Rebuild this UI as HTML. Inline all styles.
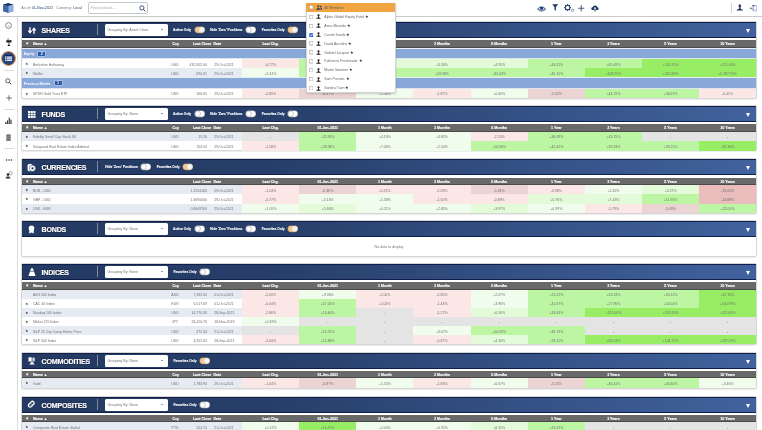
<!DOCTYPE html><html><head><meta charset="utf-8"><style>
*{box-sizing:border-box}
body{margin:0;width:762px;height:430px;overflow:hidden;background:#fff;position:relative;will-change:transform;font-family:"Liberation Sans",sans-serif;color:#555}
.a{position:absolute}
.top{left:0;top:0;width:762px;height:17px;background:#fff;border-bottom:1px solid #c9c9c9}
.side{left:0;top:17px;width:18px;height:413px;border-right:1px solid #dcdcdc;background:#fff}
.panel{position:absolute;left:21px;width:736px;background:#fff;border:1px solid #d6d6d6;border-radius:2px;box-shadow:0 1px 1px rgba(0,0,0,.08)}
.hdr{position:absolute;left:0;top:0;width:734px;height:15.5px;background:linear-gradient(to right,#243a62 0%,#263e69 33%,#41629e 100%);border-top:1px solid #0f1f4a;border-bottom:1.2px solid #0f1f4a}
.ttl{position:absolute;left:19.5px;top:3.9px;font-size:7.1px;font-weight:bold;color:#fff;letter-spacing:-0.2px;-webkit-text-stroke:0.2px #fff;text-shadow:0 0 1px #000a20,0 0 1px #000a20}
.div{position:absolute;left:74.8px;top:0.8px;width:1px;height:11.5px;background:#7f8aa0}
.grp{position:absolute;left:83px;top:1.1px;width:62.5px;height:11.5px;background:#fff;border-radius:1.5px}
.grp span{position:absolute;left:2.5px;top:3.6px;font-size:3.6px;color:#777}
.grp i{position:absolute;left:56px;top:4.7px;width:0;height:0;border-left:1.5px solid transparent;border-right:1.5px solid transparent;border-top:1.9px solid #333}
.lbl{position:absolute;top:5.2px;font-size:3.3px;font-weight:bold;color:#fff;-webkit-text-stroke:0.1px #fff}
.tg{position:absolute;top:3.6px;width:10.3px;height:6.6px;border-radius:3.3px;background:#fff;border:0.5px solid #c4c4c4;box-shadow:0 0 0.8px #000a28}
.tg.on{background:#f5c78f;border-color:#f0bb7c}
.tg b{position:absolute;top:0.4px;left:0.4px;width:5.1px;height:5.1px;border-radius:50%;background:#fff;border:0.5px solid #b0b0b0}
.tg.on b{left:4.3px;background:#f0f5fb;border-color:#f3dcc0}
.tri{position:absolute;left:724px;top:6.3px;width:0;height:0;border-left:2.4px solid transparent;border-right:2.4px solid transparent;border-top:4px solid #fff}
.ch{position:absolute;left:0;width:734px;height:7.5px;background:#696969;border-bottom:0.6px solid #4a4a4a;color:#fff;font-weight:bold;font-size:3.6px;-webkit-text-stroke:0.12px #fff}
.ch span{position:absolute;top:2.3px;white-space:nowrap}
.row{position:absolute;left:0;width:734px;height:9.2px;font-size:3.5px;color:#707070}
.row span{position:absolute;top:3.7px;white-space:nowrap}
.row.l{background:#e6ebf3}
.cell{position:absolute;top:0;height:100%;text-align:center}
.cell span{position:relative;top:3.7px}
.gr{position:absolute;left:0;width:734px;background:#88a8da;border-top:1.3px solid #e8edf3;border-bottom:1.3px solid #dfe5ee;color:#fff;font-weight:bold;font-size:3.5px}
.gr span{position:absolute;left:1.8px;top:3.3px}
.gr em{position:absolute;top:2px;height:6px;background:#2d5aa6;border:0.6px solid #a9bfe3;border-radius:1px;color:#fff;font-style:normal;font-weight:bold;text-align:center;font-size:3.6px;line-height:4.8px}
.star{position:absolute;left:4px;font-size:3px;color:#222}
</style></head><body>
<div class="a top"></div>
<svg class="a" style="left:3px;top:3px" width="10.5" height="10" viewBox="0 0 10.5 10">
 <path d="M5.2 0.2L10.2 1.6V8.2L5.2 9.8L0.3 8.2V1.6Z" fill="#2a4f8f"/>
 <path d="M0.3 1.6L5.2 0.2L10.2 1.6L5.2 3Z" fill="#1a2f5c"/>
 <path d="M5.2 3L10.2 1.6V8.2L5.2 9.8Z" fill="#8fb0dd"/>
 <path d="M0.3 1.6L5.2 3V9.8L0.3 8.2Z" fill="#3d68ad"/>
</svg>
<div class="a" style="left:21.3px;top:6px;font-size:3.7px;color:#777;white-space:nowrap">As of: <span style="color:#23427e">01-Nov-2021</span>&nbsp;&nbsp; Currency: <span style="color:#23427e">Local</span></div>
<div class="a" style="left:88px;top:2.1px;width:59.5px;height:11.7px;border:0.8px solid #c3c9d3;border-radius:2px;background:#fff"></div>
<div class="a" style="left:90.5px;top:5.6px;font-size:3.6px;color:#aaa;white-space:nowrap">Find products...</div>
<svg class="a" style="left:138.5px;top:4.8px" width="7" height="7" viewBox="0 0 7 7"><circle cx="2.9" cy="2.9" r="2.1" stroke="#1f3463" stroke-width="0.8" fill="none"/><path d="M4.4 4.4L6.3 6.3" stroke="#1f3463" stroke-width="1"/></svg>
<svg class="a" style="left:537.3px;top:5.7px" width="9.2" height="6" viewBox="0 0 9.2 6"><path d="M0.5 3Q4.6 -1.2 8.7 3Q4.6 7.2 0.5 3Z" fill="#d3dcec" stroke="#24498c" stroke-width="0.8"/><path d="M2.6 1.3Q4.6 0.3 6.6 1.3L5.6 3.6Q4.6 4.4 3.6 3.6Z" fill="#1f4186"/><path d="M1.2 3.3Q4.6 5.2 8 3.3" stroke="#3a5d9c" stroke-width="0.5" fill="none"/></svg>
<svg class="a" style="left:551.8px;top:4.2px" width="6.4" height="7" viewBox="0 0 6.4 7"><path d="M0.2 0.2H6.2L3.9 3.1V6.8L2.5 5.9V3.1Z" fill="#1f3463"/></svg>
<svg class="a" style="left:563.5px;top:4.4px" width="11" height="8" viewBox="0 0 11 8"><g transform="translate(3.6 3.6)" fill="#1f3463"><circle r="2.3" fill="none" stroke="#1f3463" stroke-width="1.0"/><rect x="-0.55" y="-3.5" width="1.1" height="1.4" transform="rotate(0)"/><rect x="-0.55" y="-3.5" width="1.1" height="1.4" transform="rotate(45)"/><rect x="-0.55" y="-3.5" width="1.1" height="1.4" transform="rotate(90)"/><rect x="-0.55" y="-3.5" width="1.1" height="1.4" transform="rotate(135)"/><rect x="-0.55" y="-3.5" width="1.1" height="1.4" transform="rotate(180)"/><rect x="-0.55" y="-3.5" width="1.1" height="1.4" transform="rotate(225)"/><rect x="-0.55" y="-3.5" width="1.1" height="1.4" transform="rotate(270)"/><rect x="-0.55" y="-3.5" width="1.1" height="1.4" transform="rotate(315)"/></g><g transform="translate(8.6 6.3)"><circle r="1.1" fill="none" stroke="#5a6d95" stroke-width="0.7"/></g></svg>
<svg class="a" style="left:578px;top:5px" width="6.5" height="6.5" viewBox="0 0 6.5 6.5"><path d="M3.25 0.2V6.3M0.2 3.25H6.3" stroke="#4b5d87" stroke-width="1.1"/></svg>
<svg class="a" style="left:590.5px;top:5px" width="8" height="6.5" viewBox="0 0 8 6.5"><path d="M1.8 5Q0.2 5 0.3 3.5Q0.4 2.2 1.7 2.3Q2.2 0.3 4.2 0.4Q6.2 0.5 6.3 2.3Q7.8 2.4 7.7 3.8Q7.6 5 6.3 5Z" fill="#1f3463"/><path d="M4 2L2.6 3.6H3.5V6.2H4.5V3.6H5.4Z" fill="#fff"/><path d="M3.5 4.6V6.4H4.5V4.6" fill="#1f3463"/></svg>
<div class="a" style="left:731.3px;top:3.3px;width:0.8px;height:9.5px;background:#d0d0d0"></div>
<svg class="a" style="left:735.8px;top:4.3px" width="7.6" height="7" viewBox="0 0 7.6 7"><ellipse cx="3.8" cy="1.9" rx="1.25" ry="1.7" fill="#1f3463"/><path d="M3.1 3.3H4.5L4.7 4.9Q7.1 5.2 7.2 6.6H0.4Q0.5 5.2 2.9 4.9Z" fill="#1f3463"/></svg>
<svg class="a" style="left:748.5px;top:4.6px" width="8.5" height="7" viewBox="0 0 8.5 7"><path d="M3.3 0.5H7.6V6.1H5.6" stroke="#8a9cbb" stroke-width="0.65" fill="none"/><path d="M3.2 0.4L5.9 0.9V6.9L3.2 6.2Z" fill="#dfe5ef"/><path d="M3.2 0.4L5.9 0.9L4.4 1.6Z" fill="#1f3463"/><path d="M3.2 0.4H5.8L4.5 1.5Z" fill="#1f3463"/><circle cx="4.3" cy="4.9" r="0.6" fill="#2a4478"/><path d="M0.4 3.3L2 2.5V4.1Z" fill="#4a5f8a"/><path d="M1.5 3.3H3.6" stroke="#2a4478" stroke-width="0.8"/></svg>

<div class="a side"></div>
<svg class="a" style="left:4.9px;top:22px" width="7" height="7" viewBox="0 0 7 7"><circle cx="3.5" cy="3.5" r="2.9" stroke="#555" stroke-width="0.7" fill="none"/><path d="M3.1 4.9L4.1 3.4" stroke="#555" stroke-width="0.55"/></svg>
<svg class="a" style="left:5.8px;top:36.8px" width="6" height="9.6" viewBox="0 0 6 9.6"><path d="M0.9 3.3L2.1 0.3L3.3 3.3Z" fill="#aaa"/><rect x="0.3" y="3.2" width="5.2" height="2.3" fill="#222"/><path d="M2.9 5.4V8" stroke="#222" stroke-width="0.8"/><ellipse cx="2.9" cy="8.5" rx="1.3" ry="0.85" fill="#222"/></svg>
<div class="a" style="left:0.9px;top:50.5px;width:15.6px;height:15.6px;border-radius:50%;background:#26467c;border:1.3px solid #f0a050"></div>
<svg class="a" style="left:4.9px;top:54.8px" width="7.2" height="6.6" viewBox="0 0 7.2 6.6"><rect x="0" y="0" width="7.2" height="0.9" fill="#0b1a48"/><g fill="#e8ecf4"><rect x="0" y="1.5" width="1.3" height="1.2"/><rect x="1.8" y="1.5" width="5.4" height="1.2"/><rect x="0" y="3.2" width="1.3" height="1.2"/><rect x="1.8" y="3.2" width="5.4" height="1.2"/><rect x="0" y="4.9" width="1.3" height="1.2"/><rect x="1.8" y="4.9" width="5.4" height="1.2"/></g></svg>
<div class="a" style="left:3.5px;top:69.6px;width:10px;height:0.8px;background:#d9d9d9"></div>
<svg class="a" style="left:5.2px;top:77.8px" width="7" height="7" viewBox="0 0 7 7"><circle cx="2.8" cy="2.8" r="2.1" stroke="#333" stroke-width="0.75" fill="none"/><path d="M4.3 4.3L6.3 6.3" stroke="#333" stroke-width="0.9"/></svg>
<svg class="a" style="left:5.5px;top:94.5px" width="6" height="6" viewBox="0 0 6 6"><path d="M3 0.2V5.8M0.2 3H5.8" stroke="#222" stroke-width="0.6"/></svg>
<div class="a" style="left:3.5px;top:108.5px;width:10px;height:0.8px;background:#d9d9d9"></div>
<svg class="a" style="left:5px;top:117px" width="7" height="7" viewBox="0 0 7 7"><g fill="#333"><rect x="0.3" y="5" width="1.1" height="1.8"/><rect x="2" y="3.4" width="1.1" height="3.4"/><rect x="3.7" y="0.6" width="1.1" height="6.2"/><rect x="5.4" y="2.6" width="1.1" height="4.2"/><rect x="0" y="6.5" width="7" height="0.4"/></g></svg>
<svg class="a" style="left:6px;top:133.5px" width="5" height="7.5" viewBox="0 0 5 7.5"><rect x="0.3" y="0.3" width="4.4" height="6.9" rx="0.8" fill="#777"/><path d="M0.3 2.3H4.7M0.3 4.6H4.7" stroke="#aaa" stroke-width="0.3"/></svg>
<div class="a" style="left:3.5px;top:148px;width:10px;height:0.8px;background:#d9d9d9"></div>
<svg class="a" style="left:4.8px;top:159px" width="8" height="2" viewBox="0 0 8 2"><g fill="#222"><circle cx="1.6" cy="1" r="0.75"/><circle cx="4" cy="1" r="0.75"/><circle cx="6.4" cy="1" r="0.75"/></g></svg>
<svg class="a" style="left:5px;top:171px" width="8" height="8" viewBox="0 0 8 8"><circle cx="5.6" cy="2.2" r="1.6" stroke="#777" stroke-width="0.6" fill="#fff"/><circle cx="3" cy="3.6" r="1.4" fill="#333"/><path d="M0.5 7.6Q0.6 5.3 3 5.2Q5.4 5.3 5.5 7.6Z" fill="#333"/></svg>
<div class="panel" style="top:21px;height:77.5px"><div class="hdr"><svg class="a" style="left:5.6px;top:3.7px" width="8" height="7" viewBox="0 0 8 7"><path d="M2 0.3v4.6M0.4 3.6L2 5.6L3.6 3.6M6 6.7V2.1M4.4 3.4L6 1.4L7.6 3.4" stroke="#fff" stroke-width="1.4" fill="none"/></svg><div class="ttl">SHARES</div><div class="div"></div><div class="grp"><span>Grouping By: Asset Class</span><i></i></div><div class="lbl" style="left:151px">Active Only</div><svg class="tgs" style="position:absolute;left:171.70000000000002px;top:2.9px" width="11.5" height="7.7" viewBox="0 0 11.5 7.7"><rect x="0.5" y="0.5" width="10.5" height="6.7" rx="3.35" fill="#f5c78f" stroke="#0c1a3c" stroke-opacity=".5" stroke-width="0.6"/><circle cx="7.75" cy="3.85" r="2.75" fill="#eef4fb" stroke="#f0d2ae" stroke-width="0.4"/></svg><div class="lbl" style="left:187.9px">Hide 'Zero' Positions</div><svg class="tgs" style="position:absolute;left:223.3px;top:2.9px" width="11.5" height="7.7" viewBox="0 0 11.5 7.7"><rect x="0.5" y="0.5" width="10.5" height="6.7" rx="3.35" fill="#fff" stroke="#0c1a3c" stroke-opacity=".5" stroke-width="0.6"/><circle cx="3.75" cy="3.85" r="2.7" fill="#fff" stroke="#9a9a9a" stroke-width="0.55"/></svg><div class="lbl" style="left:239.8px">Favorites Only</div><svg class="tgs" style="position:absolute;left:265.2px;top:2.9px" width="11.5" height="7.7" viewBox="0 0 11.5 7.7"><rect x="0.5" y="0.5" width="10.5" height="6.7" rx="3.35" fill="#f5c78f" stroke="#0c1a3c" stroke-opacity=".5" stroke-width="0.6"/><circle cx="7.75" cy="3.85" r="2.75" fill="#eef4fb" stroke="#f0d2ae" stroke-width="0.4"/></svg><div class="tri"></div></div><div class="ch" style="top:18px"><svg style="position:absolute;left:2.8px;top:1.4px;overflow:visible" width="4.4" height="4.4" viewBox="-1.2 -1.2 12.4 12.4"><path d="M5 0.3L6.2 3.6L9.8 3.7L7 5.9L8 9.4L5 7.4L2 9.4L3 5.9L0.2 3.7L3.8 3.6Z" fill="#fff"/></svg><span style="left:11px">Name &#9650;</span><span style="left:150.5px">Ccy</span><span style="left:171px">Last Close</span><span style="left:191.5px">Date</span><div class="cell" style="left:220px;width:57.14999999999998px"><span style="top:2.3px">Last Chg.</span></div><div class="cell" style="left:277.15px;width:57.150000000000034px"><span style="top:2.3px">01-Jan-2021</span></div><div class="cell" style="left:334.3px;width:57.14999999999998px"><span style="top:2.3px">1 Month</span></div><div class="cell" style="left:391.45px;width:57.150000000000034px"><span style="top:2.3px">3 Months</span></div><div class="cell" style="left:448.6px;width:57.14999999999998px"><span style="top:2.3px">6 Months</span></div><div class="cell" style="left:505.75px;width:57.14999999999998px"><span style="top:2.3px">1 Year</span></div><div class="cell" style="left:562.9px;width:57.14999999999998px"><span style="top:2.3px">3 Years</span></div><div class="cell" style="left:620.05px;width:57.15000000000009px"><span style="top:2.3px">5 Years</span></div><div class="cell" style="left:677.2px;width:56.799999999999955px"><span style="top:2.3px">10 Years</span></div></div><div class="gr" style="top:25.5px;height:11.5px"><span>Equity</span><em style="left:15.2px;width:9px">2</em></div><div class="row" style="top:37px;height:9.2px"><svg style="position:absolute;left:3.1px;top:2.9999999999999996px;overflow:visible" width="3.6" height="3.6" viewBox="-1.9 -1.9 13.8 13.8"><path d="M5 0.3L6.2 3.6L9.8 3.7L7 5.9L8 9.4L5 7.4L2 9.4L3 5.9L0.2 3.7L3.8 3.6Z" fill="#222"/></svg><span style="left:11px">Berkshire Hathaway</span><span style="left:143px;width:20px;text-align:center">USD</span><span style="right:549px">432,902.00</span><span style="left:192.2px">29-Oct-2021</span><div class="cell" style="left:220px;width:57.14999999999998px;background:#fce7e7"><span>-0.77%</span></div><div class="cell" style="left:277.15px;width:57.150000000000034px;background:#bcf6a2"><span>+19.50%</span></div><div class="cell" style="left:334.3px;width:57.14999999999998px;background:#e3fbd9"><span>+4.80%</span></div><div class="cell" style="left:391.45px;width:57.150000000000034px;background:#e3fbd9"><span>+3.34%</span></div><div class="cell" style="left:448.6px;width:57.14999999999998px;background:#e3fbd9"><span>+4.95%</span></div><div class="cell" style="left:505.75px;width:57.14999999999998px;background:#bcf6a2"><span>+43.11%</span></div><div class="cell" style="left:562.9px;width:57.14999999999998px;background:#bcf6a2"><span>+45.69%</span></div><div class="cell" style="left:620.05px;width:57.15000000000009px;background:#97ee64"><span>+100.70%</span></div><div class="cell" style="left:677.2px;width:56.799999999999955px;background:#97ee64"><span>+270.16%</span></div></div><div class="row l" style="top:46.2px;height:9.2px"><svg style="position:absolute;left:3.1px;top:2.9999999999999996px;overflow:visible" width="3.6" height="3.6" viewBox="-1.9 -1.9 13.8 13.8"><path d="M5 0.3L6.2 3.6L9.8 3.7L7 5.9L8 9.4L5 7.4L2 9.4L3 5.9L0.2 3.7L3.8 3.6Z" fill="#222"/></svg><span style="left:11px">Netflix</span><span style="left:143px;width:20px;text-align:center">USD</span><span style="right:549px">690.31</span><span style="left:192.2px">29-Oct-2021</span><div class="cell" style="left:220px;width:57.14999999999998px;background:#f1fdec"><span>+2.41%</span></div><div class="cell" style="left:277.15px;width:57.150000000000034px;background:#bcf6a2"><span>+27.30%</span></div><div class="cell" style="left:334.3px;width:57.14999999999998px;background:#bcf6a2"><span>+12.40%</span></div><div class="cell" style="left:391.45px;width:57.150000000000034px;background:#bcf6a2"><span>+33.38%</span></div><div class="cell" style="left:448.6px;width:57.14999999999998px;background:#bcf6a2"><span>+34.44%</span></div><div class="cell" style="left:505.75px;width:57.14999999999998px;background:#bcf6a2"><span>+45.10%</span></div><div class="cell" style="left:562.9px;width:57.14999999999998px;background:#97ee64"><span>+128.75%</span></div><div class="cell" style="left:620.05px;width:57.15000000000009px;background:#97ee64"><span>+452.82%</span></div><div class="cell" style="left:677.2px;width:56.799999999999955px;background:#97ee64"><span>+5,787.15%</span></div></div><div class="gr" style="top:55.4px;height:11.2px"><span>Precious Metals</span><em style="left:31.5px;width:9px">1</em></div><div class="row" style="top:66.6px;height:9.2px"><svg style="position:absolute;left:3.1px;top:2.9999999999999996px;overflow:visible" width="3.6" height="3.6" viewBox="-1.9 -1.9 13.8 13.8"><path d="M5 0.3L6.2 3.6L9.8 3.7L7 5.9L8 9.4L5 7.4L2 9.4L3 5.9L0.2 3.7L3.8 3.6Z" fill="#222"/></svg><span style="left:11px">SPDR Gold Trust ETF</span><span style="left:143px;width:20px;text-align:center">USD</span><span style="right:549px">166.65</span><span style="left:192.2px">29-Oct-2021</span><div class="cell" style="left:220px;width:57.14999999999998px;background:#fce7e7"><span>-0.85%</span></div><div class="cell" style="left:277.15px;width:57.150000000000034px;background:#ecd4d4"><span>-6.57%</span></div><div class="cell" style="left:334.3px;width:57.14999999999998px;background:#f1fdec"><span>+1.48%</span></div><div class="cell" style="left:391.45px;width:57.150000000000034px;background:#fce7e7"><span>-1.87%</span></div><div class="cell" style="left:448.6px;width:57.14999999999998px;background:#f1fdec"><span>+0.60%</span></div><div class="cell" style="left:505.75px;width:57.14999999999998px;background:#ecd4d4"><span>-5.42%</span></div><div class="cell" style="left:562.9px;width:57.14999999999998px;background:#bcf6a2"><span>+44.72%</span></div><div class="cell" style="left:620.05px;width:57.15000000000009px;background:#bcf6a2"><span>+36.67%</span></div><div class="cell" style="left:677.2px;width:56.799999999999955px;background:#fce7e7"><span>-0.41%</span></div></div></div><div class="panel" style="top:105px;height:46px"><div class="hdr"><svg class="a" style="left:6.3px;top:4.3px" width="7.5" height="7" viewBox="0 0 7.5 7"><g fill="#fff"><rect x="0" y="0" width="2.2" height="2"/><rect x="2.65" y="0" width="2.2" height="2"/><rect x="5.3" y="0" width="2.2" height="2"/><rect x="0" y="2.5" width="2.2" height="2"/><rect x="2.65" y="2.5" width="2.2" height="2"/><rect x="5.3" y="2.5" width="2.2" height="2"/><rect x="0" y="5" width="2.2" height="2"/><rect x="2.65" y="5" width="2.2" height="2"/><rect x="5.3" y="5" width="2.2" height="2"/></g></svg><div class="ttl">FUNDS</div><div class="div"></div><div class="grp"><span>Grouping By: None</span><i></i></div><div class="lbl" style="left:151px">Active Only</div><svg class="tgs" style="position:absolute;left:171.70000000000002px;top:2.9px" width="11.5" height="7.7" viewBox="0 0 11.5 7.7"><rect x="0.5" y="0.5" width="10.5" height="6.7" rx="3.35" fill="#fff" stroke="#0c1a3c" stroke-opacity=".5" stroke-width="0.6"/><circle cx="3.75" cy="3.85" r="2.7" fill="#fff" stroke="#9a9a9a" stroke-width="0.55"/></svg><div class="lbl" style="left:187.9px">Hide 'Zero' Positions</div><svg class="tgs" style="position:absolute;left:223.3px;top:2.9px" width="11.5" height="7.7" viewBox="0 0 11.5 7.7"><rect x="0.5" y="0.5" width="10.5" height="6.7" rx="3.35" fill="#fff" stroke="#0c1a3c" stroke-opacity=".5" stroke-width="0.6"/><circle cx="3.75" cy="3.85" r="2.7" fill="#fff" stroke="#9a9a9a" stroke-width="0.55"/></svg><div class="lbl" style="left:239.8px">Favorites Only</div><svg class="tgs" style="position:absolute;left:265.2px;top:2.9px" width="11.5" height="7.7" viewBox="0 0 11.5 7.7"><rect x="0.5" y="0.5" width="10.5" height="6.7" rx="3.35" fill="#fff" stroke="#0c1a3c" stroke-opacity=".5" stroke-width="0.6"/><circle cx="3.75" cy="3.85" r="2.7" fill="#fff" stroke="#9a9a9a" stroke-width="0.55"/></svg><div class="tri"></div></div><div class="ch" style="top:18px"><svg style="position:absolute;left:2.8px;top:1.4px;overflow:visible" width="4.4" height="4.4" viewBox="-1.2 -1.2 12.4 12.4"><path d="M5 0.3L6.2 3.6L9.8 3.7L7 5.9L8 9.4L5 7.4L2 9.4L3 5.9L0.2 3.7L3.8 3.6Z" fill="#fff"/></svg><span style="left:11px">Name &#9650;</span><span style="left:150.5px">Ccy</span><span style="left:171px">Last Close</span><span style="left:191.5px">Date</span><div class="cell" style="left:220px;width:57.14999999999998px"><span style="top:2.3px">Last Chg.</span></div><div class="cell" style="left:277.15px;width:57.150000000000034px"><span style="top:2.3px">01-Jan-2021</span></div><div class="cell" style="left:334.3px;width:57.14999999999998px"><span style="top:2.3px">1 Month</span></div><div class="cell" style="left:391.45px;width:57.150000000000034px"><span style="top:2.3px">3 Months</span></div><div class="cell" style="left:448.6px;width:57.14999999999998px"><span style="top:2.3px">6 Months</span></div><div class="cell" style="left:505.75px;width:57.14999999999998px"><span style="top:2.3px">1 Year</span></div><div class="cell" style="left:562.9px;width:57.14999999999998px"><span style="top:2.3px">3 Years</span></div><div class="cell" style="left:620.05px;width:57.15000000000009px"><span style="top:2.3px">5 Years</span></div><div class="cell" style="left:677.2px;width:56.799999999999955px"><span style="top:2.3px">10 Years</span></div></div><div class="row l" style="top:25.5px;height:9.5px"><svg style="position:absolute;left:3.1px;top:3.15px;overflow:visible" width="3.6" height="3.6" viewBox="-1.9 -1.9 13.8 13.8"><path d="M5 0.3L6.2 3.6L9.8 3.7L7 5.9L8 9.4L5 7.4L2 9.4L3 5.9L0.2 3.7L3.8 3.6Z" fill="#222"/></svg><span style="left:11px">Fidelity Small Cap Stock K6</span><span style="left:143px;width:20px;text-align:center">USD</span><span style="right:549px">15.26</span><span style="left:192.2px">29-Oct-2021</span><div class="cell" style="left:220px;width:57.14999999999998px;background:#e4e4e4"><span>-</span></div><div class="cell" style="left:277.15px;width:57.150000000000034px;background:#bcf6a2"><span>+11.96%</span></div><div class="cell" style="left:334.3px;width:57.14999999999998px;background:#f1fdec"><span>+4.16%</span></div><div class="cell" style="left:391.45px;width:57.150000000000034px;background:#f1fdec"><span>+3.81%</span></div><div class="cell" style="left:448.6px;width:57.14999999999998px;background:#fce7e7"><span>-2.24%</span></div><div class="cell" style="left:505.75px;width:57.14999999999998px;background:#bcf6a2"><span>+36.49%</span></div><div class="cell" style="left:562.9px;width:57.14999999999998px;background:#bcf6a2"><span>+43.15%</span></div><div class="cell" style="left:620.05px;width:57.15000000000009px;background:#e4e4e4"><span>-</span></div><div class="cell" style="left:677.2px;width:56.799999999999955px;background:#e4e4e4"><span>-</span></div></div><div class="row" style="top:35px;height:9.5px"><svg style="position:absolute;left:3.1px;top:3.15px;overflow:visible" width="3.6" height="3.6" viewBox="-1.9 -1.9 13.8 13.8"><path d="M5 0.3L6.2 3.6L9.8 3.7L7 5.9L8 9.4L5 7.4L2 9.4L3 5.9L0.2 3.7L3.8 3.6Z" fill="#222"/></svg><span style="left:11px">Vanguard Real Estate Index Admiral</span><span style="left:143px;width:20px;text-align:center">USD</span><span style="right:549px">154.50</span><span style="left:192.2px">29-Oct-2021</span><div class="cell" style="left:220px;width:57.14999999999998px;background:#fce7e7"><span>-1.18%</span></div><div class="cell" style="left:277.15px;width:57.150000000000034px;background:#bcf6a2"><span>+28.34%</span></div><div class="cell" style="left:334.3px;width:57.14999999999998px;background:#f1fdec"><span>+7.06%</span></div><div class="cell" style="left:391.45px;width:57.150000000000034px;background:#f1fdec"><span>+2.54%</span></div><div class="cell" style="left:448.6px;width:57.14999999999998px;background:#bcf6a2"><span>+10.00%</span></div><div class="cell" style="left:505.75px;width:57.14999999999998px;background:#bcf6a2"><span>+42.42%</span></div><div class="cell" style="left:562.9px;width:57.14999999999998px;background:#bcf6a2"><span>+39.23%</span></div><div class="cell" style="left:620.05px;width:57.15000000000009px;background:#bcf6a2"><span>+33.22%</span></div><div class="cell" style="left:677.2px;width:56.799999999999955px;background:#97ee64"><span>+87.36%</span></div></div></div><div class="panel" style="top:158px;height:55.5px"><div class="hdr"><svg class="a" style="left:5.3px;top:3px" width="9" height="9" viewBox="0 0 9 9"><path d="M0.6 2.3Q0.6 0.7 3 0.7Q5.4 0.7 5.4 2.3V7.6Q5.4 8.3 3 8.3Q0.6 8.3 0.6 7.6Z" fill="#fff"/><path d="M1.2 2.1Q3 1.3 4.8 2.1" stroke="#b8c2d2" stroke-width="0.4" fill="none"/><circle cx="5.5" cy="5.3" r="3.1" fill="#fff" stroke="#1e335b" stroke-width="0.5"/><circle cx="5.5" cy="5.3" r="1.15" fill="#1e335b"/></svg><div class="ttl">CURRENCIES</div><div class="div"></div><div class="lbl" style="left:83.2px">Hide 'Zero' Positions</div><svg class="tgs" style="position:absolute;left:118.4px;top:2.9px" width="11.5" height="7.7" viewBox="0 0 11.5 7.7"><rect x="0.5" y="0.5" width="10.5" height="6.7" rx="3.35" fill="#fff" stroke="#0c1a3c" stroke-opacity=".5" stroke-width="0.6"/><circle cx="3.75" cy="3.85" r="2.7" fill="#fff" stroke="#9a9a9a" stroke-width="0.55"/></svg><div class="lbl" style="left:134.8px">Favorites Only</div><svg class="tgs" style="position:absolute;left:160.1px;top:2.9px" width="11.5" height="7.7" viewBox="0 0 11.5 7.7"><rect x="0.5" y="0.5" width="10.5" height="6.7" rx="3.35" fill="#f5c78f" stroke="#0c1a3c" stroke-opacity=".5" stroke-width="0.6"/><circle cx="7.75" cy="3.85" r="2.75" fill="#eef4fb" stroke="#f0d2ae" stroke-width="0.4"/></svg><div class="tri"></div></div><div class="ch" style="top:18.5px"><svg style="position:absolute;left:2.8px;top:1.4px;overflow:visible" width="4.4" height="4.4" viewBox="-1.2 -1.2 12.4 12.4"><path d="M5 0.3L6.2 3.6L9.8 3.7L7 5.9L8 9.4L5 7.4L2 9.4L3 5.9L0.2 3.7L3.8 3.6Z" fill="#fff"/></svg><span style="left:11px">Name &#9650;</span><span style="left:171px">Last Close</span><span style="left:191.5px">Date</span><div class="cell" style="left:220px;width:57.14999999999998px"><span style="top:2.3px">Last Chg.</span></div><div class="cell" style="left:277.15px;width:57.150000000000034px"><span style="top:2.3px">01-Jan-2021</span></div><div class="cell" style="left:334.3px;width:57.14999999999998px"><span style="top:2.3px">1 Month</span></div><div class="cell" style="left:391.45px;width:57.150000000000034px"><span style="top:2.3px">3 Months</span></div><div class="cell" style="left:448.6px;width:57.14999999999998px"><span style="top:2.3px">6 Months</span></div><div class="cell" style="left:505.75px;width:57.14999999999998px"><span style="top:2.3px">1 Year</span></div><div class="cell" style="left:562.9px;width:57.14999999999998px"><span style="top:2.3px">3 Years</span></div><div class="cell" style="left:620.05px;width:57.15000000000009px"><span style="top:2.3px">5 Years</span></div><div class="cell" style="left:677.2px;width:56.799999999999955px"><span style="top:2.3px">10 Years</span></div></div><div class="row l" style="top:26px;height:9.3px"><svg style="position:absolute;left:3.1px;top:3.0500000000000003px;overflow:visible" width="3.6" height="3.6" viewBox="-1.9 -1.9 13.8 13.8"><path d="M5 0.3L6.2 3.6L9.8 3.7L7 5.9L8 9.4L5 7.4L2 9.4L3 5.9L0.2 3.7L3.8 3.6Z" fill="#222"/></svg><span style="left:11px">EUR - USD</span><span style="right:549px">1.1561100</span><span style="left:192.2px">29-Oct-2021</span><div class="cell" style="left:220px;width:57.14999999999998px;background:#fce7e7"><span>-1.04%</span></div><div class="cell" style="left:277.15px;width:57.150000000000034px;background:#ecd4d4"><span>-5.36%</span></div><div class="cell" style="left:334.3px;width:57.14999999999998px;background:#fce7e7"><span>-0.21%</span></div><div class="cell" style="left:391.45px;width:57.150000000000034px;background:#fce7e7"><span>-2.58%</span></div><div class="cell" style="left:448.6px;width:57.14999999999998px;background:#ecd4d4"><span>-5.81%</span></div><div class="cell" style="left:505.75px;width:57.14999999999998px;background:#fce7e7"><span>-0.98%</span></div><div class="cell" style="left:562.9px;width:57.14999999999998px;background:#f1fdec"><span>+1.82%</span></div><div class="cell" style="left:620.05px;width:57.15000000000009px;background:#e3fbd9"><span>+5.37%</span></div><div class="cell" style="left:677.2px;width:56.799999999999955px;background:#eabcbc"><span>-18.03%</span></div></div><div class="row" style="top:35.3px;height:9.3px"><svg style="position:absolute;left:3.1px;top:3.0500000000000003px;overflow:visible" width="3.6" height="3.6" viewBox="-1.9 -1.9 13.8 13.8"><path d="M5 0.3L6.2 3.6L9.8 3.7L7 5.9L8 9.4L5 7.4L2 9.4L3 5.9L0.2 3.7L3.8 3.6Z" fill="#222"/></svg><span style="left:11px">GBP - USD</span><span style="right:549px">1.3690000</span><span style="left:192.2px">29-Oct-2021</span><div class="cell" style="left:220px;width:57.14999999999998px;background:#fce7e7"><span>-0.77%</span></div><div class="cell" style="left:277.15px;width:57.150000000000034px;background:#f1fdec"><span>+0.16%</span></div><div class="cell" style="left:334.3px;width:57.14999999999998px;background:#f1fdec"><span>+1.58%</span></div><div class="cell" style="left:391.45px;width:57.150000000000034px;background:#fce7e7"><span>-1.50%</span></div><div class="cell" style="left:448.6px;width:57.14999999999998px;background:#fce7e7"><span>-0.89%</span></div><div class="cell" style="left:505.75px;width:57.14999999999998px;background:#e3fbd9"><span>+5.76%</span></div><div class="cell" style="left:562.9px;width:57.14999999999998px;background:#e3fbd9"><span>+7.43%</span></div><div class="cell" style="left:620.05px;width:57.15000000000009px;background:#bcf6a2"><span>+11.91%</span></div><div class="cell" style="left:677.2px;width:56.799999999999955px;background:#eabcbc"><span>-14.89%</span></div></div><div class="row l" style="top:44.6px;height:9.3px"><svg style="position:absolute;left:3.1px;top:3.0500000000000003px;overflow:visible" width="3.6" height="3.6" viewBox="-1.9 -1.9 13.8 13.8"><path d="M5 0.3L6.2 3.6L9.8 3.7L7 5.9L8 9.4L5 7.4L2 9.4L3 5.9L0.2 3.7L3.8 3.6Z" fill="#222"/></svg><span style="left:11px">USD - EUR</span><span style="right:549px">0.8649700</span><span style="left:192.2px">29-Oct-2021</span><div class="cell" style="left:220px;width:57.14999999999998px;background:#f1fdec"><span>+1.05%</span></div><div class="cell" style="left:277.15px;width:57.150000000000034px;background:#e3fbd9"><span>+5.66%</span></div><div class="cell" style="left:334.3px;width:57.14999999999998px;background:#f1fdec"><span>+0.21%</span></div><div class="cell" style="left:391.45px;width:57.150000000000034px;background:#f1fdec"><span>+2.85%</span></div><div class="cell" style="left:448.6px;width:57.14999999999998px;background:#e3fbd9"><span>+3.97%</span></div><div class="cell" style="left:505.75px;width:57.14999999999998px;background:#f1fdec"><span>+0.99%</span></div><div class="cell" style="left:562.9px;width:57.14999999999998px;background:#fce7e7"><span>-1.79%</span></div><div class="cell" style="left:620.05px;width:57.15000000000009px;background:#ecd4d4"><span>-5.09%</span></div><div class="cell" style="left:677.2px;width:56.799999999999955px;background:#bcf6a2"><span>+22.00%</span></div></div></div><div class="panel" style="top:220px;height:36.5px"><div class="hdr"><svg class="a" style="left:6.4px;top:2.7px" width="7" height="9" viewBox="0 0 7 9"><circle cx="3.5" cy="3.2" r="2.8" fill="#fff"/><path d="M1.4 4.8L1.2 8.6L3.5 7.6L5.8 8.6L5.6 4.8Z" fill="#fff"/></svg><div class="ttl">BONDS</div><div class="div"></div><div class="grp"><span>Grouping By: None</span><i></i></div><div class="lbl" style="left:151px">Active Only</div><svg class="tgs" style="position:absolute;left:171.70000000000002px;top:2.9px" width="11.5" height="7.7" viewBox="0 0 11.5 7.7"><rect x="0.5" y="0.5" width="10.5" height="6.7" rx="3.35" fill="#fff" stroke="#0c1a3c" stroke-opacity=".5" stroke-width="0.6"/><circle cx="3.75" cy="3.85" r="2.7" fill="#fff" stroke="#9a9a9a" stroke-width="0.55"/></svg><div class="lbl" style="left:187.9px">Hide 'Zero' Positions</div><svg class="tgs" style="position:absolute;left:223.3px;top:2.9px" width="11.5" height="7.7" viewBox="0 0 11.5 7.7"><rect x="0.5" y="0.5" width="10.5" height="6.7" rx="3.35" fill="#fff" stroke="#0c1a3c" stroke-opacity=".5" stroke-width="0.6"/><circle cx="3.75" cy="3.85" r="2.7" fill="#fff" stroke="#9a9a9a" stroke-width="0.55"/></svg><div class="lbl" style="left:239.8px">Favorites Only</div><svg class="tgs" style="position:absolute;left:265.2px;top:2.9px" width="11.5" height="7.7" viewBox="0 0 11.5 7.7"><rect x="0.5" y="0.5" width="10.5" height="6.7" rx="3.35" fill="#f5c78f" stroke="#0c1a3c" stroke-opacity=".5" stroke-width="0.6"/><circle cx="7.75" cy="3.85" r="2.75" fill="#eef4fb" stroke="#f0d2ae" stroke-width="0.4"/></svg><div class="tri"></div></div><div class="a" style="left:0;top:15.5px;width:734px;height:19px;text-align:center;font-size:3.6px;color:#777;padding-top:8.8px">No data to display</div></div><div class="panel" style="top:263px;height:82px"><div class="hdr"><svg class="a" style="left:5.8px;top:2.7px" width="8" height="8.5" viewBox="0 0 8 8.5"><path d="M3.1 0.3H4.9L7.6 8.2H0.4Z" fill="#fff"/><path d="M2.3 3.3H5.7" stroke="#1e335b" stroke-width="0.7"/></svg><div class="ttl">INDICES</div><div class="div"></div><div class="grp"><span>Grouping By: None</span><i></i></div><div class="lbl" style="left:151.6px">Favorites Only</div><svg class="tgs" style="position:absolute;left:176.8px;top:2.9px" width="11.5" height="7.7" viewBox="0 0 11.5 7.7"><rect x="0.5" y="0.5" width="10.5" height="6.7" rx="3.35" fill="#fff" stroke="#0c1a3c" stroke-opacity=".5" stroke-width="0.6"/><circle cx="3.75" cy="3.85" r="2.7" fill="#fff" stroke="#9a9a9a" stroke-width="0.55"/></svg><div class="tri"></div></div><div class="ch" style="top:18px"><svg style="position:absolute;left:2.8px;top:1.4px;overflow:visible" width="4.4" height="4.4" viewBox="-1.2 -1.2 12.4 12.4"><path d="M5 0.3L6.2 3.6L9.8 3.7L7 5.9L8 9.4L5 7.4L2 9.4L3 5.9L0.2 3.7L3.8 3.6Z" fill="#fff"/></svg><span style="left:11px">Name &#9650;</span><span style="left:150.5px">Ccy</span><span style="left:171px">Last Close</span><span style="left:191.5px">Date</span><div class="cell" style="left:220px;width:57.14999999999998px"><span style="top:2.3px">Last Chg.</span></div><div class="cell" style="left:277.15px;width:57.150000000000034px"><span style="top:2.3px">01-Jan-2021</span></div><div class="cell" style="left:334.3px;width:57.14999999999998px"><span style="top:2.3px">1 Month</span></div><div class="cell" style="left:391.45px;width:57.150000000000034px"><span style="top:2.3px">3 Months</span></div><div class="cell" style="left:448.6px;width:57.14999999999998px"><span style="top:2.3px">6 Months</span></div><div class="cell" style="left:505.75px;width:57.14999999999998px"><span style="top:2.3px">1 Year</span></div><div class="cell" style="left:562.9px;width:57.14999999999998px"><span style="top:2.3px">3 Years</span></div><div class="cell" style="left:620.05px;width:57.15000000000009px"><span style="top:2.3px">5 Years</span></div><div class="cell" style="left:677.2px;width:56.799999999999955px"><span style="top:2.3px">10 Years</span></div></div><div class="row l" style="top:25.5px;height:9.1px"><span style="left:11px">ASX 200 Index</span><span style="left:143px;width:20px;text-align:center">AUD</span><span style="right:549px">7,185.50</span><span style="left:192.2px">01-Oct-2021</span><div class="cell" style="left:220px;width:57.14999999999998px;background:#fce7e7"><span>-2.00%</span></div><div class="cell" style="left:277.15px;width:57.150000000000034px;background:#f1fdec"><span>+9.06%</span></div><div class="cell" style="left:334.3px;width:57.14999999999998px;background:#fce7e7"><span>-2.00%</span></div><div class="cell" style="left:391.45px;width:57.150000000000034px;background:#fce7e7"><span>-2.80%</span></div><div class="cell" style="left:448.6px;width:57.14999999999998px;background:#f1fdec"><span>+2.27%</span></div><div class="cell" style="left:505.75px;width:57.14999999999998px;background:#bcf6a2"><span>+21.22%</span></div><div class="cell" style="left:562.9px;width:57.14999999999998px;background:#bcf6a2"><span>+23.24%</span></div><div class="cell" style="left:620.05px;width:57.15000000000009px;background:#bcf6a2"><span>+35.12%</span></div><div class="cell" style="left:677.2px;width:56.799999999999955px;background:#97ee64"><span>+67.18%</span></div></div><div class="row" style="top:34.6px;height:9.1px"><svg style="position:absolute;left:3.1px;top:2.9499999999999997px;overflow:visible" width="3.6" height="3.6" viewBox="-1.9 -1.9 13.8 13.8"><path d="M5 0.3L6.2 3.6L9.8 3.7L7 5.9L8 9.4L5 7.4L2 9.4L3 5.9L0.2 3.7L3.8 3.6Z" fill="#222"/></svg><span style="left:11px">CAC 40 Index</span><span style="left:143px;width:20px;text-align:center">EUR</span><span style="right:549px">6,517.69</span><span style="left:192.2px">01-Oct-2021</span><div class="cell" style="left:220px;width:57.14999999999998px;background:#fce7e7"><span>-0.04%</span></div><div class="cell" style="left:277.15px;width:57.150000000000034px;background:#bcf6a2"><span>+17.41%</span></div><div class="cell" style="left:334.3px;width:57.14999999999998px;background:#fce7e7"><span>-0.04%</span></div><div class="cell" style="left:391.45px;width:57.150000000000034px;background:#fce7e7"><span>-1.44%</span></div><div class="cell" style="left:448.6px;width:57.14999999999998px;background:#f1fdec"><span>+3.96%</span></div><div class="cell" style="left:505.75px;width:57.14999999999998px;background:#bcf6a2"><span>+41.67%</span></div><div class="cell" style="left:562.9px;width:57.14999999999998px;background:#bcf6a2"><span>+27.96%</span></div><div class="cell" style="left:620.05px;width:57.15000000000009px;background:#bcf6a2"><span>+44.54%</span></div><div class="cell" style="left:677.2px;width:56.799999999999955px;background:#97ee64"><span>+100.99%</span></div></div><div class="row l" style="top:43.7px;height:9.1px"><svg style="position:absolute;left:3.1px;top:2.9499999999999997px;overflow:visible" width="3.6" height="3.6" viewBox="-1.9 -1.9 13.8 13.8"><path d="M5 0.3L6.2 3.6L9.8 3.7L7 5.9L8 9.4L5 7.4L2 9.4L3 5.9L0.2 3.7L3.8 3.6Z" fill="#222"/></svg><span style="left:11px">Nasdaq 100 Index</span><span style="left:143px;width:20px;text-align:center">USD</span><span style="right:549px">14,770.30</span><span style="left:192.2px">28-Sep-2021</span><div class="cell" style="left:220px;width:57.14999999999998px;background:#fce7e7"><span>-2.86%</span></div><div class="cell" style="left:277.15px;width:57.150000000000034px;background:#bcf6a2"><span>+14.60%</span></div><div class="cell" style="left:334.3px;width:57.14999999999998px;background:#e4e4e4"><span>-</span></div><div class="cell" style="left:391.45px;width:57.150000000000034px;background:#fce7e7"><span>-1.27%</span></div><div class="cell" style="left:448.6px;width:57.14999999999998px;background:#e3fbd9"><span>+6.56%</span></div><div class="cell" style="left:505.75px;width:57.14999999999998px;background:#bcf6a2"><span>+33.63%</span></div><div class="cell" style="left:562.9px;width:57.14999999999998px;background:#97ee64"><span>+112.00%</span></div><div class="cell" style="left:620.05px;width:57.15000000000009px;background:#97ee64"><span>+207.63%</span></div><div class="cell" style="left:677.2px;width:56.799999999999955px;background:#97ee64"><span>+525.84%</span></div></div><div class="row" style="top:52.800000000000004px;height:9.1px"><svg style="position:absolute;left:3.1px;top:2.9499999999999997px;overflow:visible" width="3.6" height="3.6" viewBox="-1.9 -1.9 13.8 13.8"><path d="M5 0.3L6.2 3.6L9.8 3.7L7 5.9L8 9.4L5 7.4L2 9.4L3 5.9L0.2 3.7L3.8 3.6Z" fill="#222"/></svg><span style="left:11px">Nikkei 225 Index</span><span style="left:143px;width:20px;text-align:center">JPY</span><span style="right:549px">23,416.76</span><span style="left:192.2px">18-Nov-2019</span><div class="cell" style="left:220px;width:57.14999999999998px;background:#f1fdec"><span>+0.49%</span></div><div class="cell" style="left:277.15px;width:57.150000000000034px;background:#e4e4e4"><span>-</span></div><div class="cell" style="left:334.3px;width:57.14999999999998px;background:#e4e4e4"><span>-</span></div><div class="cell" style="left:391.45px;width:57.150000000000034px;background:#e4e4e4"><span>-</span></div><div class="cell" style="left:448.6px;width:57.14999999999998px;background:#e4e4e4"><span>-</span></div><div class="cell" style="left:505.75px;width:57.14999999999998px;background:#e4e4e4"><span>-</span></div><div class="cell" style="left:562.9px;width:57.14999999999998px;background:#e4e4e4"><span>-</span></div><div class="cell" style="left:620.05px;width:57.15000000000009px;background:#e4e4e4"><span>-</span></div><div class="cell" style="left:677.2px;width:56.799999999999955px;background:#e4e4e4"><span>-</span></div></div><div class="row l" style="top:61.900000000000006px;height:9.1px"><svg style="position:absolute;left:3.1px;top:2.9499999999999997px;overflow:visible" width="3.6" height="3.6" viewBox="-1.9 -1.9 13.8 13.8"><path d="M5 0.3L6.2 3.6L9.8 3.7L7 5.9L8 9.4L5 7.4L2 9.4L3 5.9L0.2 3.7L3.8 3.6Z" fill="#222"/></svg><span style="left:11px">S&amp;P 20 City Comp Home Price</span><span style="left:143px;width:20px;text-align:center">USD</span><span style="right:549px">272.34</span><span style="left:192.2px">21-Oct-2021</span><div class="cell" style="left:220px;width:57.14999999999998px;background:#e4e4e4"><span>-</span></div><div class="cell" style="left:277.15px;width:57.150000000000034px;background:#bcf6a2"><span>+15.51%</span></div><div class="cell" style="left:334.3px;width:57.14999999999998px;background:#e4e4e4"><span>-</span></div><div class="cell" style="left:391.45px;width:57.150000000000034px;background:#f1fdec"><span>+3.67%</span></div><div class="cell" style="left:448.6px;width:57.14999999999998px;background:#bcf6a2"><span>+10.69%</span></div><div class="cell" style="left:505.75px;width:57.14999999999998px;background:#bcf6a2"><span>+18.74%</span></div><div class="cell" style="left:562.9px;width:57.14999999999998px;background:#e4e4e4"><span>-</span></div><div class="cell" style="left:620.05px;width:57.15000000000009px;background:#e4e4e4"><span>-</span></div><div class="cell" style="left:677.2px;width:56.799999999999955px;background:#e4e4e4"><span>-</span></div></div><div class="row" style="top:71.0px;height:9.1px"><svg style="position:absolute;left:3.1px;top:2.9499999999999997px;overflow:visible" width="3.6" height="3.6" viewBox="-1.9 -1.9 13.8 13.8"><path d="M5 0.3L6.2 3.6L9.8 3.7L7 5.9L8 9.4L5 7.4L2 9.4L3 5.9L0.2 3.7L3.8 3.6Z" fill="#222"/></svg><span style="left:11px">S&amp;P 500 Index</span><span style="left:143px;width:20px;text-align:center">USD</span><span style="right:549px">4,352.63</span><span style="left:192.2px">28-Sep-2021</span><div class="cell" style="left:220px;width:57.14999999999998px;background:#fce7e7"><span>-2.04%</span></div><div class="cell" style="left:277.15px;width:57.150000000000034px;background:#bcf6a2"><span>+15.88%</span></div><div class="cell" style="left:334.3px;width:57.14999999999998px;background:#e4e4e4"><span>-</span></div><div class="cell" style="left:391.45px;width:57.150000000000034px;background:#fce7e7"><span>-0.87%</span></div><div class="cell" style="left:448.6px;width:57.14999999999998px;background:#e3fbd9"><span>+4.10%</span></div><div class="cell" style="left:505.75px;width:57.14999999999998px;background:#bcf6a2"><span>+33.11%</span></div><div class="cell" style="left:562.9px;width:57.14999999999998px;background:#97ee64"><span>+80.01%</span></div><div class="cell" style="left:620.05px;width:57.15000000000009px;background:#97ee64"><span>+104.72%</span></div><div class="cell" style="left:677.2px;width:56.799999999999955px;background:#97ee64"><span>+247.29%</span></div></div></div><div class="panel" style="top:352px;height:36.5px"><div class="hdr"><svg class="a" style="left:5.9px;top:3.2px" width="8" height="8" viewBox="0 0 8 8"><rect x="0.5" y="0.3" width="3.2" height="4.2" fill="#fff"/><ellipse cx="5.6" cy="2.6" rx="1.4" ry="2.3" fill="#c9d0dc"/><path d="M1.3 7.6L4 4.3L6.7 7.6Z" fill="#fff"/></svg><div class="ttl">COMMODITIES</div><div class="div"></div><div class="grp"><span>Grouping By: None</span><i></i></div><div class="lbl" style="left:151.6px">Favorites Only</div><svg class="tgs" style="position:absolute;left:176.8px;top:2.9px" width="11.5" height="7.7" viewBox="0 0 11.5 7.7"><rect x="0.5" y="0.5" width="10.5" height="6.7" rx="3.35" fill="#f5c78f" stroke="#0c1a3c" stroke-opacity=".5" stroke-width="0.6"/><circle cx="7.75" cy="3.85" r="2.75" fill="#eef4fb" stroke="#f0d2ae" stroke-width="0.4"/></svg><div class="tri"></div></div><div class="ch" style="top:17.5px"><svg style="position:absolute;left:2.8px;top:1.4px;overflow:visible" width="4.4" height="4.4" viewBox="-1.2 -1.2 12.4 12.4"><path d="M5 0.3L6.2 3.6L9.8 3.7L7 5.9L8 9.4L5 7.4L2 9.4L3 5.9L0.2 3.7L3.8 3.6Z" fill="#fff"/></svg><span style="left:11px">Name &#9650;</span><span style="left:150.5px">Ccy</span><span style="left:171px">Last Close</span><span style="left:191.5px">Date</span><div class="cell" style="left:220px;width:57.14999999999998px"><span style="top:2.3px">Last Chg.</span></div><div class="cell" style="left:277.15px;width:57.150000000000034px"><span style="top:2.3px">01-Jan-2021</span></div><div class="cell" style="left:334.3px;width:57.14999999999998px"><span style="top:2.3px">1 Month</span></div><div class="cell" style="left:391.45px;width:57.150000000000034px"><span style="top:2.3px">3 Months</span></div><div class="cell" style="left:448.6px;width:57.14999999999998px"><span style="top:2.3px">6 Months</span></div><div class="cell" style="left:505.75px;width:57.14999999999998px"><span style="top:2.3px">1 Year</span></div><div class="cell" style="left:562.9px;width:57.14999999999998px"><span style="top:2.3px">3 Years</span></div><div class="cell" style="left:620.05px;width:57.15000000000009px"><span style="top:2.3px">5 Years</span></div><div class="cell" style="left:677.2px;width:56.799999999999955px"><span style="top:2.3px">10 Years</span></div></div><div class="row l" style="top:25px;height:9.5px"><svg style="position:absolute;left:3.1px;top:3.15px;overflow:visible" width="3.6" height="3.6" viewBox="-1.9 -1.9 13.8 13.8"><path d="M5 0.3L6.2 3.6L9.8 3.7L7 5.9L8 9.4L5 7.4L2 9.4L3 5.9L0.2 3.7L3.8 3.6Z" fill="#222"/></svg><span style="left:11px">Gold</span><span style="left:143px;width:20px;text-align:center">USD</span><span style="right:549px">1,783.90</span><span style="left:192.2px">29-Oct-2021</span><div class="cell" style="left:220px;width:57.14999999999998px;background:#fce7e7"><span>-1.04%</span></div><div class="cell" style="left:277.15px;width:57.150000000000034px;background:#ecd4d4"><span>-5.87%</span></div><div class="cell" style="left:334.3px;width:57.14999999999998px;background:#f1fdec"><span>+1.53%</span></div><div class="cell" style="left:391.45px;width:57.150000000000034px;background:#fce7e7"><span>-1.83%</span></div><div class="cell" style="left:448.6px;width:57.14999999999998px;background:#f1fdec"><span>+0.67%</span></div><div class="cell" style="left:505.75px;width:57.14999999999998px;background:#ecd4d4"><span>-5.11%</span></div><div class="cell" style="left:562.9px;width:57.14999999999998px;background:#bcf6a2"><span>+46.41%</span></div><div class="cell" style="left:620.05px;width:57.15000000000009px;background:#bcf6a2"><span>+40.30%</span></div><div class="cell" style="left:677.2px;width:56.799999999999955px;background:#f1fdec"><span>+3.46%</span></div></div></div><div class="panel" style="top:396px;height:40px"><div class="hdr"><svg class="a" style="left:5.3px;top:2.2px" width="8.5" height="8.5" viewBox="0 0 8.5 8.5"><g transform="rotate(-45 4.25 4.25)"><rect x="0.9" y="2.55" width="6.7" height="3.4" rx="1.7" fill="none" stroke="#fff" stroke-width="1.3"/><path d="M2.6 4.25H5.3" stroke="#c8cfdb" stroke-width="0.7" stroke-linecap="round"/></g></svg><div class="ttl">COMPOSITES</div><div class="div"></div><div class="grp"><span>Grouping By: None</span><i></i></div><div class="lbl" style="left:151.6px">Favorites Only</div><svg class="tgs" style="position:absolute;left:176.8px;top:2.9px" width="11.5" height="7.7" viewBox="0 0 11.5 7.7"><rect x="0.5" y="0.5" width="10.5" height="6.7" rx="3.35" fill="#fff" stroke="#0c1a3c" stroke-opacity=".5" stroke-width="0.6"/><circle cx="3.75" cy="3.85" r="2.7" fill="#fff" stroke="#9a9a9a" stroke-width="0.55"/></svg><div class="tri"></div></div><div class="ch" style="top:17.5px"><svg style="position:absolute;left:2.8px;top:1.4px;overflow:visible" width="4.4" height="4.4" viewBox="-1.2 -1.2 12.4 12.4"><path d="M5 0.3L6.2 3.6L9.8 3.7L7 5.9L8 9.4L5 7.4L2 9.4L3 5.9L0.2 3.7L3.8 3.6Z" fill="#fff"/></svg><span style="left:11px">Name &#9650;</span><span style="left:150.5px">Ccy</span><span style="left:171px">Last Close</span><span style="left:191.5px">Date</span><div class="cell" style="left:220px;width:57.14999999999998px"><span style="top:2.3px">Last Chg.</span></div><div class="cell" style="left:277.15px;width:57.150000000000034px"><span style="top:2.3px">01-Jan-2021</span></div><div class="cell" style="left:334.3px;width:57.14999999999998px"><span style="top:2.3px">1 Month</span></div><div class="cell" style="left:391.45px;width:57.150000000000034px"><span style="top:2.3px">3 Months</span></div><div class="cell" style="left:448.6px;width:57.14999999999998px"><span style="top:2.3px">6 Months</span></div><div class="cell" style="left:505.75px;width:57.14999999999998px"><span style="top:2.3px">1 Year</span></div><div class="cell" style="left:562.9px;width:57.14999999999998px"><span style="top:2.3px">3 Years</span></div><div class="cell" style="left:620.05px;width:57.15000000000009px"><span style="top:2.3px">5 Years</span></div><div class="cell" style="left:677.2px;width:56.799999999999955px"><span style="top:2.3px">10 Years</span></div></div><div class="row l" style="top:25px;height:9.5px"><svg style="position:absolute;left:3.1px;top:3.15px;overflow:visible" width="3.6" height="3.6" viewBox="-1.9 -1.9 13.8 13.8"><path d="M5 0.3L6.2 3.6L9.8 3.7L7 5.9L8 9.4L5 7.4L2 9.4L3 5.9L0.2 3.7L3.8 3.6Z" fill="#222"/></svg><span style="left:11px">Composite Real Estate Global</span><span style="left:143px;width:20px;text-align:center">PTS</span><span style="right:549px">124.74</span><span style="left:192.2px">21-Oct-2021</span><div class="cell" style="left:220px;width:57.14999999999998px;background:#f1fdec"><span>+0.12%</span></div><div class="cell" style="left:277.15px;width:57.150000000000034px;background:#97ee64"><span>+16.15%</span></div><div class="cell" style="left:334.3px;width:57.14999999999998px;background:#f1fdec"><span>+2.04%</span></div><div class="cell" style="left:391.45px;width:57.150000000000034px;background:#f1fdec"><span>+0.91%</span></div><div class="cell" style="left:448.6px;width:57.14999999999998px;background:#e3fbd9"><span>+8.31%</span></div><div class="cell" style="left:505.75px;width:57.14999999999998px;background:#bcf6a2"><span>+23.52%</span></div><div class="cell" style="left:562.9px;width:57.14999999999998px;background:#e4e4e4"><span>-</span></div><div class="cell" style="left:620.05px;width:57.15000000000009px;background:#e4e4e4"><span>-</span></div><div class="cell" style="left:677.2px;width:56.799999999999955px;background:#e4e4e4"><span>-</span></div></div></div><div class="a" style="left:305.5px;top:2.5px;width:90px;height:90.3px;background:#fff;border:0.8px solid #d4d4d4;box-shadow:0 1px 2px rgba(0,0,0,.18)"></div><div class="a" style="left:306px;top:3px;width:89px;height:8.8px;background:#f0a542"></div><svg class="a" style="left:309px;top:5.3px" width="4.4" height="4.4" viewBox="0 0 4.4 4.4"><rect x="0.3" y="0.3" width="3.8" height="3.8" rx="0.6" fill="#fff" stroke="#8a8a8a" stroke-width="0.6"/></svg><svg class="a" style="left:315.8px;top:4.9px" width="6.5" height="5" viewBox="0 0 6.5 5"><circle cx="2.3" cy="1.3" r="1.1" fill="#2a3f6a"/><path d="M0 4.8Q0.1 3.2 2.3 3Q4.5 3.2 4.6 4.8Z" fill="#2a3f6a"/><circle cx="4.8" cy="1.6" r="0.9" fill="#2a3f6a"/><path d="M4.2 2.8Q6.4 3 6.5 4.8H5Z" fill="#2a3f6a"/></svg><div class="a" style="left:324.3px;top:5.6px;font-size:3.5px;color:#666;white-space:nowrap">All Members</div><svg class="a" style="left:309px;top:14.7px" width="4.4" height="4.4" viewBox="0 0 4.4 4.4"><rect x="0.3" y="0.3" width="3.8" height="3.8" rx="0.6" fill="#fff" stroke="#8a8a8a" stroke-width="0.6"/></svg><svg class="a" style="left:315.8px;top:14.299999999999999px" width="5" height="5" viewBox="0 0 5 5"><circle cx="2.5" cy="1.3" r="1.1" fill="#222"/><path d="M2 2.3H3L3.1 3.4Q4.8 3.6 4.8 4.8H0.2Q0.2 3.6 1.9 3.4Z" fill="#222"/></svg><div class="a" style="left:324.3px;top:14.899999999999999px;font-size:3.5px;line-height:4px;color:#666;white-space:nowrap">Alpha Global Equity Fund <span style="color:#222;font-size:3.8px">&#9733;</span></div><svg class="a" style="left:309px;top:23.599999999999998px" width="4.4" height="4.4" viewBox="0 0 4.4 4.4"><rect x="0.3" y="0.3" width="3.8" height="3.8" rx="0.6" fill="#fff" stroke="#8a8a8a" stroke-width="0.6"/></svg><svg class="a" style="left:315.8px;top:23.199999999999996px" width="5" height="5" viewBox="0 0 5 5"><circle cx="2.5" cy="1.3" r="1.1" fill="#222"/><path d="M2 2.3H3L3.1 3.4Q4.8 3.6 4.8 4.8H0.2Q0.2 3.6 1.9 3.4Z" fill="#222"/></svg><div class="a" style="left:324.3px;top:23.799999999999997px;font-size:3.5px;line-height:4px;color:#666;white-space:nowrap">Anna Maseda <span style="color:#222;font-size:3.8px">&#9733;</span></div><svg class="a" style="left:309px;top:32.5px" width="4.4" height="4.4" viewBox="0 0 4.4 4.4"><rect x="0.3" y="0.3" width="3.8" height="3.8" rx="0.6" fill="#2f6fd6" stroke="#1e56b8" stroke-width="0.4"/><path d="M1 2.2L1.9 3.1L3.5 1.2" stroke="#fff" stroke-width="0.7" fill="none"/></svg><svg class="a" style="left:315.8px;top:32.1px" width="5" height="5" viewBox="0 0 5 5"><circle cx="2.5" cy="1.3" r="1.1" fill="#222"/><path d="M2 2.3H3L3.1 3.4Q4.8 3.6 4.8 4.8H0.2Q0.2 3.6 1.9 3.4Z" fill="#222"/></svg><div class="a" style="left:324.3px;top:32.7px;font-size:3.5px;line-height:4px;color:#666;white-space:nowrap">Carole Seeds <span style="color:#222;font-size:3.8px">&#9733;</span></div><svg class="a" style="left:309px;top:41.4px" width="4.4" height="4.4" viewBox="0 0 4.4 4.4"><rect x="0.3" y="0.3" width="3.8" height="3.8" rx="0.6" fill="#fff" stroke="#8a8a8a" stroke-width="0.6"/></svg><svg class="a" style="left:315.8px;top:41.0px" width="5" height="5" viewBox="0 0 5 5"><circle cx="2.5" cy="1.3" r="1.1" fill="#222"/><path d="M2 2.3H3L3.1 3.4Q4.8 3.6 4.8 4.8H0.2Q0.2 3.6 1.9 3.4Z" fill="#222"/></svg><div class="a" style="left:324.3px;top:41.6px;font-size:3.5px;line-height:4px;color:#666;white-space:nowrap">David Anceline <span style="color:#222;font-size:3.8px">&#9733;</span></div><svg class="a" style="left:309px;top:50.3px" width="4.4" height="4.4" viewBox="0 0 4.4 4.4"><rect x="0.3" y="0.3" width="3.8" height="3.8" rx="0.6" fill="#fff" stroke="#8a8a8a" stroke-width="0.6"/></svg><svg class="a" style="left:315.8px;top:49.9px" width="5" height="5" viewBox="0 0 5 5"><circle cx="2.5" cy="1.3" r="1.1" fill="#222"/><path d="M2 2.3H3L3.1 3.4Q4.8 3.6 4.8 4.8H0.2Q0.2 3.6 1.9 3.4Z" fill="#222"/></svg><div class="a" style="left:324.3px;top:50.5px;font-size:3.5px;line-height:4px;color:#666;white-space:nowrap">Gabriel Jacquet <span style="color:#222;font-size:3.8px">&#9733;</span></div><svg class="a" style="left:309px;top:59.199999999999996px" width="4.4" height="4.4" viewBox="0 0 4.4 4.4"><rect x="0.3" y="0.3" width="3.8" height="3.8" rx="0.6" fill="#fff" stroke="#8a8a8a" stroke-width="0.6"/></svg><svg class="a" style="left:315.8px;top:58.8px" width="5" height="5" viewBox="0 0 5 5"><circle cx="2.5" cy="1.3" r="1.1" fill="#222"/><path d="M2 2.3H3L3.1 3.4Q4.8 3.6 4.8 4.8H0.2Q0.2 3.6 1.9 3.4Z" fill="#222"/></svg><div class="a" style="left:324.3px;top:59.4px;font-size:3.5px;line-height:4px;color:#666;white-space:nowrap">Katherine Freshwater <span style="color:#222;font-size:3.8px">&#9733;</span></div><svg class="a" style="left:309px;top:68.10000000000001px" width="4.4" height="4.4" viewBox="0 0 4.4 4.4"><rect x="0.3" y="0.3" width="3.8" height="3.8" rx="0.6" fill="#fff" stroke="#8a8a8a" stroke-width="0.6"/></svg><svg class="a" style="left:315.8px;top:67.70000000000002px" width="5" height="5" viewBox="0 0 5 5"><circle cx="2.5" cy="1.3" r="1.1" fill="#222"/><path d="M2 2.3H3L3.1 3.4Q4.8 3.6 4.8 4.8H0.2Q0.2 3.6 1.9 3.4Z" fill="#222"/></svg><div class="a" style="left:324.3px;top:68.30000000000001px;font-size:3.5px;line-height:4px;color:#666;white-space:nowrap">Martin Sommer <span style="color:#222;font-size:3.8px">&#9733;</span></div><svg class="a" style="left:309px;top:77.0px" width="4.4" height="4.4" viewBox="0 0 4.4 4.4"><rect x="0.3" y="0.3" width="3.8" height="3.8" rx="0.6" fill="#fff" stroke="#8a8a8a" stroke-width="0.6"/></svg><svg class="a" style="left:315.8px;top:76.60000000000001px" width="5" height="5" viewBox="0 0 5 5"><circle cx="2.5" cy="1.3" r="1.1" fill="#222"/><path d="M2 2.3H3L3.1 3.4Q4.8 3.6 4.8 4.8H0.2Q0.2 3.6 1.9 3.4Z" fill="#222"/></svg><div class="a" style="left:324.3px;top:77.2px;font-size:3.5px;line-height:4px;color:#666;white-space:nowrap">Sam Preston <span style="color:#222;font-size:3.8px">&#9733;</span></div><svg class="a" style="left:309px;top:85.89999999999999px" width="4.4" height="4.4" viewBox="0 0 4.4 4.4"><rect x="0.3" y="0.3" width="3.8" height="3.8" rx="0.6" fill="#fff" stroke="#8a8a8a" stroke-width="0.6"/></svg><svg class="a" style="left:315.8px;top:85.5px" width="5" height="5" viewBox="0 0 5 5"><circle cx="2.5" cy="1.3" r="1.1" fill="#222"/><path d="M2 2.3H3L3.1 3.4Q4.8 3.6 4.8 4.8H0.2Q0.2 3.6 1.9 3.4Z" fill="#222"/></svg><div class="a" style="left:324.3px;top:86.1px;font-size:3.5px;line-height:4px;color:#666;white-space:nowrap">Sandra Yuen <span style="color:#222;font-size:3.8px">&#9733;</span></div></body></html>
